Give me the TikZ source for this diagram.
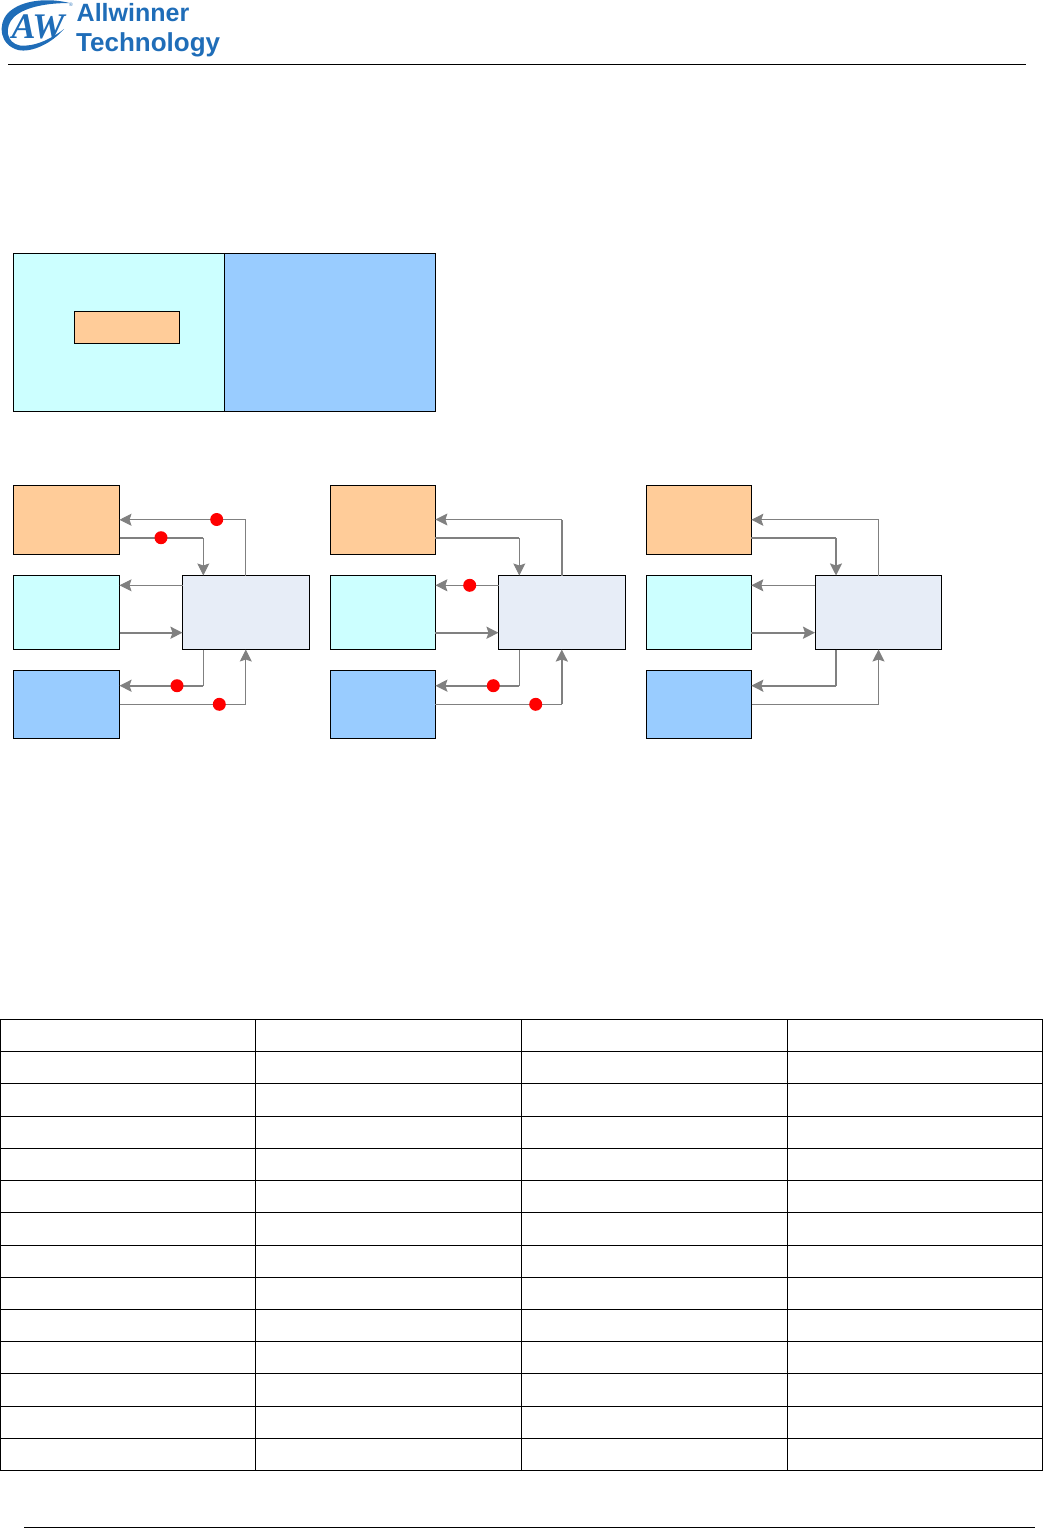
\documentclass[tikz,border=0pt]{standalone}
\usepackage{fontspec}
\usetikzlibrary{arrows.meta}
\newfontfamily\brandfont{Liberation Sans}
\newfontfamily\markfont{Liberation Serif}
\definecolor{brandblue}{HTML}{1F6DB8}
\definecolor{peachfill}{HTML}{FFCC99}
\definecolor{cyanfill}{HTML}{CCFFFF}
\definecolor{skyfill}{HTML}{99CCFF}
\definecolor{hubfill}{HTML}{E7EDF7}
\definecolor{linkgray}{HTML}{808080}
\tikzset{
	cellbox/.style={draw=black,line width=1pt,inner sep=0pt,outer sep=0pt,minimum width=105},
	peachbox/.style={cellbox,fill=peachfill},
	cyanbox/.style={cellbox,fill=cyanfill},
	skybox/.style={cellbox,fill=skyfill},
	hubbox/.style={cellbox,fill=hubfill,minimum width=126.4,minimum height=74},
	thinlink/.style={draw=linkgray,line width=1pt},
	thicklink/.style={draw=linkgray,line width=2pt},
	tipped/.style={-{Stealth[length=12pt,width=12pt,inset=2pt]}},
	reddot/.style={circle,fill=red,inner sep=0pt,minimum size=13},
	brandtext/.style={text=brandblue,anchor=base west,inner sep=0pt}
}
\begin{document}
\begin{tikzpicture}[x=1pt,y=-1pt]
	\useasboundingbox (0,0) rectangle (1043,1528);
	% logo
	\fill[brandblue] (69.5,3) .. controls (50,-2) and (22,-1) .. (8,13) .. controls (-3,25) and (0,45) .. (18,50) .. controls (32,53) and (52,43) .. (64,29)
		.. controls (50,40) and (33,47) .. (20,45.5) .. controls (6,43) and (4,27) .. (14,17) .. controls (26,6) and (50,3) .. (69.5,3) -- cycle;
	\node[text=brandblue,inner sep=0pt,font=\markfont\itshape\bfseries\fontsize{36}{38}\selectfont] (markAW) at (38,27) {AW};
	\node[text=brandblue,inner sep=0pt,font=\brandfont\fontsize{5}{5}\selectfont] (markR) at (71,5) {®};
	\node[brandtext,font=\brandfont\bfseries\fontsize{25}{30}\selectfont] (brandA) at (76.5,21.7) {Allwinner};
	\node[brandtext,font=\brandfont\bfseries\fontsize{26}{30}\selectfont] (brandT) at (76,51.7) {Technology};
	\draw[line width=1pt] (8,64.5) -- (1026,64.5);
	% layers
	\node[cyanbox,minimum width=211,minimum height=158] (layerL) at (119,332.5) {};
	\node[skybox,minimum width=211,minimum height=158] (layerR) at (330,332.5) {};
	\node[peachbox,minimum height=32] (layerS) at (127,327.3) {};
	% first group
	\node[peachbox,minimum width=106,minimum height=69.5] (deA) at (66.5,519.75) {};
	\node[cyanbox,minimum width=106,minimum height=74] (viA) at (66.5,612.5) {};
	\node[skybox,minimum width=106,minimum height=68] (vdA) at (66.5,704.5) {};
	\node[hubbox] (hubA) at (245.8,612.5) {};
	\coordinate (topbendA) at (203.3,537.7);
	\coordinate (lowbendA) at (203.3,685.7);
	\coordinate (backA) at (182.5,585.3);
	\coordinate (fwdA) at (182.5,632.7);
	\coordinate (vdoutA) at (119.5,704.3);
	\draw[thinlink,tipped] (hubA.north) |- (deA.east);
	\draw[thicklink] (deA.east |- topbendA) -- (topbendA);
	\draw[thinlink,tipped] (topbendA) -- (topbendA |- hubA.north);
	\draw[thinlink,tipped] (backA) -- (backA -| viA.east);
	\draw[thicklink,tipped] (fwdA -| viA.east) -- (fwdA);
	\draw[thinlink] (lowbendA |- hubA.south) -- (lowbendA);
	\draw[thicklink,tipped] (lowbendA) -- (lowbendA -| vdA.east);
	\draw[thinlink,tipped] (vdoutA) -| (hubA.south);
	\node[reddot] (dotA) at (216.7,519.5) {};
	\node[reddot] (dotB) at (161,537.7) {};
	\node[reddot] (dotC) at (177,685.7) {};
	\node[reddot] (dotD) at (219.3,704.3) {};
	% second group
	\node[peachbox,minimum height=69.5] (deB) at (382.9,519.75) {};
	\node[cyanbox,minimum height=74] (viB) at (382.9,612.5) {};
	\node[skybox,minimum height=68] (vdB) at (382.9,704.5) {};
	\node[hubbox] (hubB) at (561.8,612.5) {};
	\coordinate (topbendB) at (519.3,537.7);
	\coordinate (lowbendB) at (519.3,685.7);
	\coordinate (upperB) at (561.8,519.5);
	\coordinate (outerB) at (561.8,704.3);
	\coordinate (backB) at (498.5,585.3);
	\coordinate (fwdB) at (498.5,632.7);
	\draw[thicklink] (hubB.north) -- (upperB);
	\draw[thinlink,tipped] (upperB) -- (upperB -| deB.east);
	\draw[thicklink] (deB.east |- topbendB) -- (topbendB);
	\draw[thinlink,tipped] (topbendB) -- (topbendB |- hubB.north);
	\draw[thinlink,tipped] (backB) -- (backB -| viB.east);
	\draw[thicklink,tipped] (fwdB -| viB.east) -- (fwdB);
	\draw[thinlink] (lowbendB |- hubB.south) -- (lowbendB);
	\draw[thicklink,tipped] (lowbendB) -- (lowbendB -| vdB.east);
	\draw[thinlink] (outerB -| vdB.east) -- (outerB);
	\draw[thicklink,tipped] (outerB) -- (hubB.south);
	\node[reddot] (dotE) at (469.7,585.3) {};
	\node[reddot] (dotF) at (493.3,685.7) {};
	\node[reddot] (dotG) at (535.7,704.3) {};
	% third group
	\node[peachbox,minimum height=69.5] (deC) at (698.8,519.75) {};
	\node[cyanbox,minimum height=74] (viC) at (698.8,612.5) {};
	\node[skybox,minimum height=68] (vdC) at (698.8,704.5) {};
	\node[hubbox] (hubC) at (878.5,612.5) {};
	\coordinate (topbendC) at (836,537.7);
	\coordinate (lowbendC) at (836,685.7);
	\coordinate (backC) at (815,585.3);
	\coordinate (fwdC) at (815,632.7);
	\coordinate (vdoutC) at (751.5,704.3);
	\draw[thinlink,tipped] (hubC.north) |- (deC.east);
	\draw[thicklink] (deC.east |- topbendC) -- (topbendC);
	\draw[thicklink,tipped] (topbendC) -- (topbendC |- hubC.north);
	\draw[thinlink,tipped] (backC) -- (backC -| viC.east);
	\draw[thicklink,tipped] (fwdC -| viC.east) -- (fwdC);
	\draw[thicklink] (lowbendC |- hubC.south) -- (lowbendC);
	\draw[thicklink,tipped] (lowbendC) -- (lowbendC -| vdC.east);
	\draw[thinlink,tipped] (vdoutC) -| (hubC.south);
	% table
	\draw[line width=1pt] (0.5,1019.5) rectangle (1042.5,1470.5)
		(255.5,1019.5) -- (255.5,1470.5) (521.5,1019.5) -- (521.5,1470.5) (787.5,1019.5) -- (787.5,1470.5)
		(0.5,1051.5) -- (1042.5,1051.5) (0.5,1083.5) -- (1042.5,1083.5) (0.5,1116.5) -- (1042.5,1116.5)
		(0.5,1148.5) -- (1042.5,1148.5) (0.5,1180.5) -- (1042.5,1180.5) (0.5,1212.5) -- (1042.5,1212.5)
		(0.5,1245.5) -- (1042.5,1245.5) (0.5,1277.5) -- (1042.5,1277.5) (0.5,1309.5) -- (1042.5,1309.5)
		(0.5,1341.5) -- (1042.5,1341.5) (0.5,1373.5) -- (1042.5,1373.5) (0.5,1406.5) -- (1042.5,1406.5)
		(0.5,1438.5) -- (1042.5,1438.5);
	\draw[line width=1pt] (24,1527) -- (1035,1527);
\end{tikzpicture}
\end{document}
